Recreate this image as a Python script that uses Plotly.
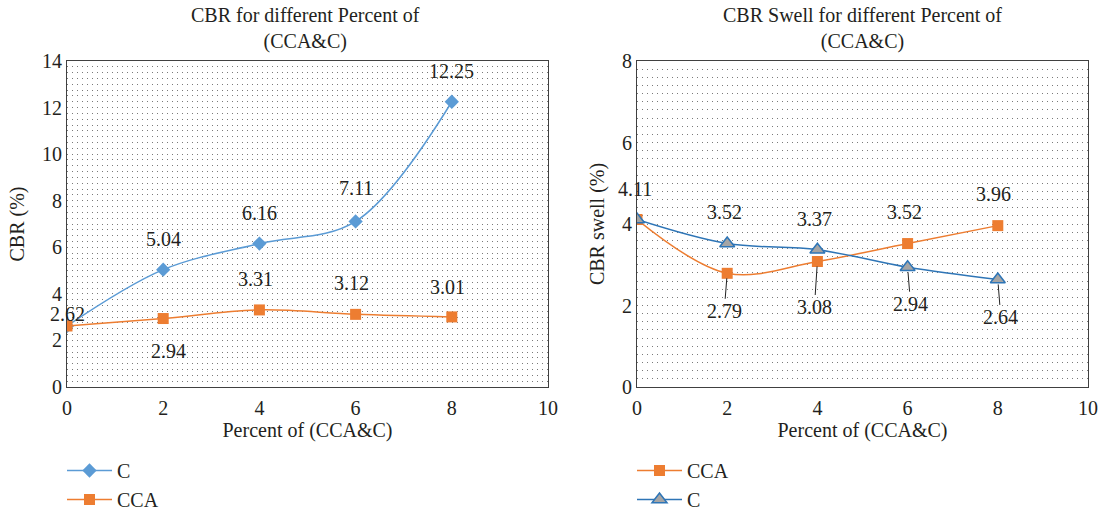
import plotly.graph_objects as go

# ---------------- data ----------------
percent = [0, 2, 4, 6, 8]
cbr_C = [2.62, 5.04, 6.16, 7.11, 12.25]
cbr_CCA = [2.62, 2.94, 3.31, 3.12, 3.01]
swell_CCA = [4.11, 2.79, 3.08, 3.52, 3.96]
swell_C = [4.11, 3.52, 3.37, 2.94, 2.64]

left_title = "CBR for different Percent of<br>(CCA&C)"
right_title = "CBR Swell for different Percent of<br>(CCA&C)"
x_title = "Percent of (CCA&C)"
left_y_title = "CBR (%)"
right_y_title = "CBR swell (%)"

# ---------------- style ----------------
W, H = 1103, 519
FONT = "Liberation Serif"
TXT = "#231f20"
BLUE = "#5B9BD5"
BLUE2 = "#2E75B6"
ORANGE = "#ED7D31"
GREY = "#A5A5A5"
DOT = "#7a7a7a"

# label offsets in pixels (dx, dy, leader) ; None = no label
left_C_off = [(0, -12, False), (0, -31, False), (0, -31, False), (0, -33, False), (0, -31, False)]
left_CCA_off = [None, (5, 32, False), (-4, -31, False), (-4, -31, False), (-4, -30, False)]
right_CCA_off = [None, (-3, 38, True), (-3, 46, True), (-3, -32, False), (-4, -32, False)]
right_C_off = [(-2, -31, False), (-3, -32, False), (-3, -31, False), (3, 37, True), (3, 38, True)]

def px_x(p):
    return p / W

def px_y(p):
    return 1 - p / H

xL = [px_x(67), px_x(548)]
xR = [px_x(637), px_x(1088)]
yD = [px_y(387), px_y(61)]

fig = go.Figure()

# left chart
fig.add_trace(go.Scatter(x=percent, y=cbr_C, name="C", mode="lines+markers",
                         line=dict(color=BLUE, width=1.5, shape="spline", smoothing=1.0),
                         marker=dict(symbol="diamond", size=11, color=BLUE),
                         xaxis="x", yaxis="y", legend="legend"))
fig.add_trace(go.Scatter(x=percent, y=cbr_CCA, name="CCA", mode="lines+markers",
                         line=dict(color=ORANGE, width=1.5, shape="spline", smoothing=1.0),
                         marker=dict(symbol="square", size=11, color=ORANGE),
                         xaxis="x", yaxis="y", legend="legend"))
# right chart
fig.add_trace(go.Scatter(x=percent, y=swell_CCA, name="CCA", mode="lines+markers",
                         line=dict(color=ORANGE, width=1.5, shape="spline", smoothing=1.0),
                         marker=dict(symbol="square", size=11, color=ORANGE),
                         xaxis="x2", yaxis="y2", legend="legend2"))
fig.add_trace(go.Scatter(x=percent, y=swell_C, name="C", mode="lines+markers",
                         line=dict(color=BLUE2, width=1.5, shape="spline", smoothing=1.0),
                         marker=dict(symbol="triangle-up", size=13, color=GREY,
                                     line=dict(color=BLUE2, width=1.5)),
                         xaxis="x2", yaxis="y2", legend="legend2"))

annotations = []

def add_labels(xs, ys, offs, xref, yref):
    for xv, yv, off in zip(xs, ys, offs):
        if off is None:
            continue
        dx, dy, leader = off
        txt = f"{yv:.2f}"
        if leader:
            annotations.append(dict(x=xv, y=yv, xref=xref, yref=yref, text=txt,
                                    showarrow=True, ax=dx, ay=dy, arrowhead=0,
                                    arrowwidth=1, arrowcolor="#222", standoff=5,
                                    font=dict(family=FONT, size=20, color=TXT)))
        else:
            annotations.append(dict(x=xv, y=yv, xref=xref, yref=yref, text=txt,
                                    showarrow=False, xshift=dx, yshift=-dy,
                                    font=dict(family=FONT, size=20, color=TXT)))

add_labels(percent, cbr_C, left_C_off, "x", "y")
add_labels(percent, cbr_CCA, left_CCA_off, "x", "y")
add_labels(percent, swell_CCA, right_CCA_off, "x2", "y2")
add_labels(percent, swell_C, right_C_off, "x2", "y2")

# chart titles
annotations.append(dict(x=px_x(305), y=px_y(29), xref="paper", yref="paper", text=left_title,
                        showarrow=False, xanchor="center", yanchor="middle",
                        font=dict(family=FONT, size=20, color=TXT)))
annotations.append(dict(x=px_x(863), y=px_y(29), xref="paper", yref="paper", text=right_title,
                        showarrow=False, xanchor="center", yanchor="middle",
                        font=dict(family=FONT, size=20, color=TXT)))

def xaxis(domain, anchor):
    return dict(domain=domain, anchor=anchor, range=[0, 10], dtick=2, tick0=0,
                showline=True, linecolor="#404040", linewidth=1, mirror=True,
                ticks="", showgrid=False, zeroline=False, automargin=False,
                ticklabelstandoff=3,
                tickfont=dict(family=FONT, size=20, color=TXT),
                title=dict(text=x_title, font=dict(family=FONT, size=20, color=TXT), standoff=4))

def yaxis(domain, anchor, rng, minor_dt, title):
    return dict(domain=domain, anchor=anchor, range=rng, dtick=2, tick0=0,
                showline=True, linecolor="#404040", linewidth=1, mirror=True,
                ticks="", zeroline=False, automargin=False,
                showgrid=True, gridcolor=DOT, griddash="1px,4px", gridwidth=1,
                minor=dict(dtick=minor_dt, tick0=0, showgrid=True, gridcolor=DOT,
                           griddash="1px,4px", gridwidth=1),
                tickfont=dict(family=FONT, size=20, color=TXT),
                title=dict(text=title, font=dict(family=FONT, size=20, color=TXT), standoff=12))

fig.update_layout(
    template="none",
    width=W, height=H,
    margin=dict(l=0, r=0, t=0, b=0),
    paper_bgcolor="white", plot_bgcolor="white",
    font=dict(family=FONT, size=20, color=TXT),
    xaxis=xaxis(xL, "y"),
    yaxis=yaxis(yD, "x", [0, 14], 0.25, left_y_title),
    xaxis2=xaxis(xR, "y2"),
    yaxis2=yaxis(yD, "x2", [0, 8], 0.2, right_y_title),
    legend=dict(x=px_x(62), y=0.0, xanchor="left", yanchor="bottom",
                orientation="v", bgcolor="rgba(0,0,0,0)", itemwidth=45,
                font=dict(family=FONT, size=20, color=TXT), tracegroupgap=0),
    legend2=dict(x=px_x(632), y=0.0, xanchor="left", yanchor="bottom",
                 orientation="v", bgcolor="rgba(0,0,0,0)", itemwidth=45,
                 font=dict(family=FONT, size=20, color=TXT), tracegroupgap=0),
    annotations=annotations,
    showlegend=True,
)

fig.write_html("out.html")
